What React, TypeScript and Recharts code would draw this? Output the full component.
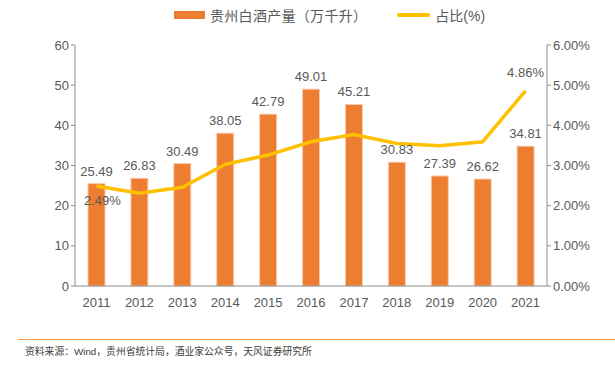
import {
  ComposedChart,
  Bar,
  Line,
  XAxis,
  YAxis,
  LabelList,
} from "recharts";

// 贵州白酒产量 and its share
const YEARS = ["2011", "2012", "2013", "2014", "2015", "2016", "2017", "2018", "2019", "2020", "2021"];
const OUTPUT = [25.49, 26.83, 30.49, 38.05, 42.79, 49.01, 45.21, 30.83, 27.39, 26.62, 34.81];
const SHARE = [2.49, 2.31, 2.46, 3.03, 3.26, 3.59, 3.77, 3.55, 3.49, 3.59, 4.86];
const LEFT_TICKS = [0, 10, 20, 30, 40, 50, 60];
const RIGHT_TICKS = [0, 1, 2, 3, 4, 5, 6];

const data = YEARS.map((year, i) => ({ year, output: OUTPUT[i], share: SHARE[i] }));

const FONT = "'Liberation Sans', 'Noto Sans CJK SC', sans-serif";
const TEXT = "#595959";
const AXIS = "#8c8c8c";

function ShareLabel(props: any) {
  const { x, y, value, index } = props;
  if (index === 0) {
    return (
      <text x={x + 6} y={y + 19} textAnchor="middle" fill={TEXT} fontSize={13} fontFamily={FONT}>
        {value.toFixed(2)}%
      </text>
    );
  }
  if (index === YEARS.length - 1) {
    return (
      <text x={x} y={y - 14} textAnchor="middle" fill={TEXT} fontSize={13} fontFamily={FONT}>
        {value.toFixed(2)}%
      </text>
    );
  }
  return null;
}

export default function App() {
  return (
    <div style={{ position: "absolute", left: 0, top: 0, width: 615, height: 373, background: "#fff", fontFamily: FONT }}>
      {/* legend */}
      <div style={{ position: "absolute", top: 5, left: 174, display: "flex", alignItems: "center", fontSize: 14, color: TEXT }}>
        <span style={{ display: "inline-block", width: 31, height: 8, background: "#ED7D31", marginRight: 5 }} />
        <span style={{ marginRight: 30, letterSpacing: 0.3 }}>贵州白酒产量（万千升）</span>
        <span style={{ display: "inline-block", width: 33, height: 4, background: "#FFC000", borderRadius: 2, marginRight: 5 }} />
        <span>占比(%)</span>
      </div>

      <ComposedChart
        width={615}
        height={320}
        data={data}
        margin={{ top: 45, right: 8, bottom: 4, left: 35 }}
        style={{ position: "absolute", left: 0, top: 0 }}
      >
        <XAxis
          dataKey="year"
          tickLine={false}
          axisLine={{ stroke: AXIS }}
          tick={{ fill: TEXT, fontSize: 13, fontFamily: FONT }}
          height={30}
          tickMargin={6}
          interval={0}
        />
        <YAxis
          yAxisId="left"
          domain={[0, 60]}
          ticks={LEFT_TICKS}
          width={40}
          axisLine={{ stroke: AXIS }}
          tickLine={{ stroke: AXIS }}
          tickSize={4}
          tick={{ fill: TEXT, fontSize: 13, fontFamily: FONT }}
        />
        <YAxis
          yAxisId="right"
          orientation="right"
          domain={[0, 6]}
          ticks={RIGHT_TICKS}
          width={60}
          axisLine={{ stroke: AXIS }}
          tickLine={{ stroke: AXIS }}
          tickSize={4}
          tickFormatter={(v: number) => v.toFixed(2) + "%"}
          tick={{ fill: TEXT, fontSize: 13, fontFamily: FONT }}
        />
        <Bar
          yAxisId="left"
          dataKey="output"
          fill="#ED7D31"
          stroke="#F8CBAD"
          strokeWidth={1}
          barSize={17}
          isAnimationActive={false}
        >
          <LabelList
            dataKey="output"
            position="top"
            offset={8}
            fill={TEXT}
            fontSize={13}
            fontFamily={FONT}
            formatter={(v: any) => Number(v).toFixed(2)}
          />
        </Bar>
        <Line
          yAxisId="right"
          type="linear"
          dataKey="share"
          stroke="#FFC000"
          strokeWidth={3.5}
          dot={false}
          activeDot={false}
          isAnimationActive={false}
        >
          <LabelList dataKey="share" content={<ShareLabel />} />
        </Line>
      </ComposedChart>

      {/* source line */}
      <div style={{ position: "absolute", left: 18, top: 339, width: 597, height: 1, background: "#F79646" }} />
      <div style={{ position: "absolute", left: 25, top: 344, fontSize: 9.8, color: "#404040", fontFamily: FONT }}>
        资料来源：Wind，贵州省统计局，酒业家公众号，天风证券研究所
      </div>
    </div>
  );
}
